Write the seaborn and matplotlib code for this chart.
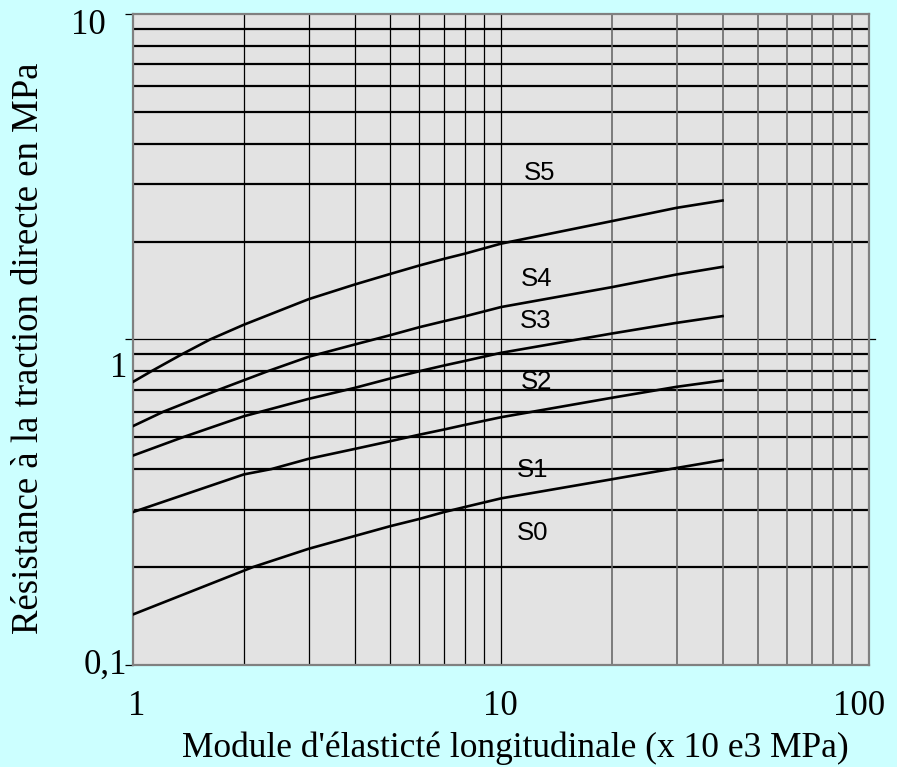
import numpy as np
import pandas as pd
import matplotlib
matplotlib.use("Agg")
import matplotlib.pyplot as plt
from matplotlib.transforms import ScaledTranslation
import seaborn as sns

# ---- data (x in 10e3 MPa, y in MPa) ----
x_a = [1, 1.124, 1.356, 1.619, 2, 3, 4, 5, 6, 7, 8, 10, 20, 30, 40]
curve_a = [0.741, 0.80, 0.90, 1.00, 1.11, 1.33, 1.475, 1.59, 1.688, 1.769, 1.837, 1.97, 2.31, 2.538, 2.673]  # S4/S5
x_b = [1, 1.209, 1.705, 2.33, 3, 4, 5, 6, 7, 8, 10, 20, 30, 40]
curve_b = [0.542, 0.60, 0.70, 0.80, 0.885, 0.965, 1.031, 1.091, 1.138, 1.179, 1.258, 1.448, 1.584, 1.672]  # S3/S4
x_c = [1, 1.36, 2, 3, 4, 5, 6, 7, 8, 10, 20, 30, 40]
curve_c = [0.440, 0.50, 0.581, 0.657, 0.710, 0.759, 0.799, 0.832, 0.860, 0.910, 1.043, 1.125, 1.180]  # S2/S3
x_d = [1, 2, 2.38, 3, 4, 5, 6, 7, 8, 10, 20, 30, 40]
curve_d = [0.295, 0.385, 0.40, 0.430, 0.461, 0.487, 0.510, 0.529, 0.547, 0.577, 0.662, 0.7155, 0.748]  # S1/S2
x_e = [1, 2.12, 3, 4, 5, 6, 7, 8, 10, 20, 30, 40]
curve_e = [0.143, 0.20, 0.2275, 0.249, 0.267, 0.281, 0.295, 0.306, 0.325, 0.372, 0.403, 0.426]  # S0/S1
class_labels = ["S5", "S4", "S3", "S2", "S1", "S0"]
label_x = [12.74, 12.53, 12.43, 12.45, 12.22, 12.18]
label_y = [3.243, 1.534, 1.142, 0.742, 0.397, 0.2547]
ytick_vals = [0.1, 1, 10]
ytick_text = ["0,1", "1", "10"]
xtick_vals = [1, 10, 100]
xtick_text = ["1", "10", "100"]

frames = []
for name, xs, ys in [("a", x_a, curve_a), ("b", x_b, curve_b), ("c", x_c, curve_c),
                     ("d", x_d, curve_d), ("e", x_e, curve_e)]:
    frames.append(pd.DataFrame({"E": xs, "R": ys, "curve": name}))
df = pd.concat(frames, ignore_index=True)

BG = "#CCFFFF"
PLOT_BG = "#E3E3E3"
SERIF = "Liberation Serif"

fig = plt.figure(figsize=(8.97, 7.67), dpi=100, facecolor=BG)
ax = fig.add_axes([133 / 897, 1 - 665 / 767, (869 - 133) / 897, (665 - 14) / 767])
ax.set_facecolor(PLOT_BG)
ax.set_xscale("log")
ax.set_yscale("log")
ax.set_xlim(1, 100)
ax.set_ylim(0.1, 10)

# grid lines
minor_y = [v * d for d in (0.1, 1) for v in range(2, 10)]
for v in minor_y:
    ax.axhline(v, color="black", lw=1.6, zorder=1)
ax.plot([0, 1.008], [1, 1], transform=ax.get_yaxis_transform(), color="black",
        lw=0.9, clip_on=False, zorder=1)
for d in (1, 10):
    for v in range(2, 10):
        xv = v * d
        if d == 1:
            ax.axvline(xv, color="black", lw=0.9, zorder=1)
        else:
            ax.axvline(xv, color="#6a6a6a", lw=1.2, zorder=1)
ax.axvline(10, color="black", lw=0.9, zorder=1)

sns.lineplot(data=df, x="E", y="R", hue="curve", palette=["black"] * 5,
             legend=False, lw=1.9, ax=ax, zorder=3, estimator=None, sort=True)

for t, xx, yy in zip(class_labels, label_x, label_y):
    ax.text(xx, yy, t, ha="center", va="center", fontsize=18.5,
            family="Liberation Sans", color="black", zorder=4)

for s in ax.spines.values():
    s.set_color("#808080")
    s.set_linewidth(1.6)

ax.set_xticks(xtick_vals)
ax.set_xticklabels(xtick_text)
ax.set_yticks(ytick_vals)
ax.set_yticklabels(ytick_text)
ax.minorticks_off()
ax.tick_params(axis="x", length=0, pad=18, labelsize=25)
ax.tick_params(axis="y", length=6, width=0.9, pad=1, labelsize=25, color="black")
for lab in ax.get_xticklabels() + ax.get_yticklabels():
    lab.set_family(SERIF)

# per-label nudges to mimic reference placement
offsets = {"10": (-18, -8), "1": (4, -25), "0,1": (4, 4)}
for lab in ax.get_yticklabels():
    dx, dy = offsets.get(lab.get_text(), (0, 0))
    lab.set_transform(lab.get_transform() + ScaledTranslation(dx / 100, dy / 100, fig.dpi_scale_trans))
xoff = {"1": (4, 0), "10": (-1, 0), "100": (-10, 0)}
for lab in ax.get_xticklabels():
    dx, dy = xoff.get(lab.get_text(), (0, 0))
    lab.set_transform(lab.get_transform() + ScaledTranslation(dx / 100, dy / 100, fig.dpi_scale_trans))

ax.set_xlabel("Module d'élasticté longitudinale (x 10 e3 MPa)", fontsize=25.5,
              family=SERIF, va="baseline", ha="center")
ax.set_ylabel("Résistance à la traction directe en MPa", fontsize=26.5,
              family=SERIF, va="center", ha="center", rotation_mode="default")
ax.xaxis.set_label_coords(515 / 897, 1 - 757 / 767, transform=fig.transFigure)
ax.yaxis.set_label_coords(29 / 897, 1 - 348 / 767, transform=fig.transFigure)

fig.savefig("out.png", dpi=100, facecolor=BG)
